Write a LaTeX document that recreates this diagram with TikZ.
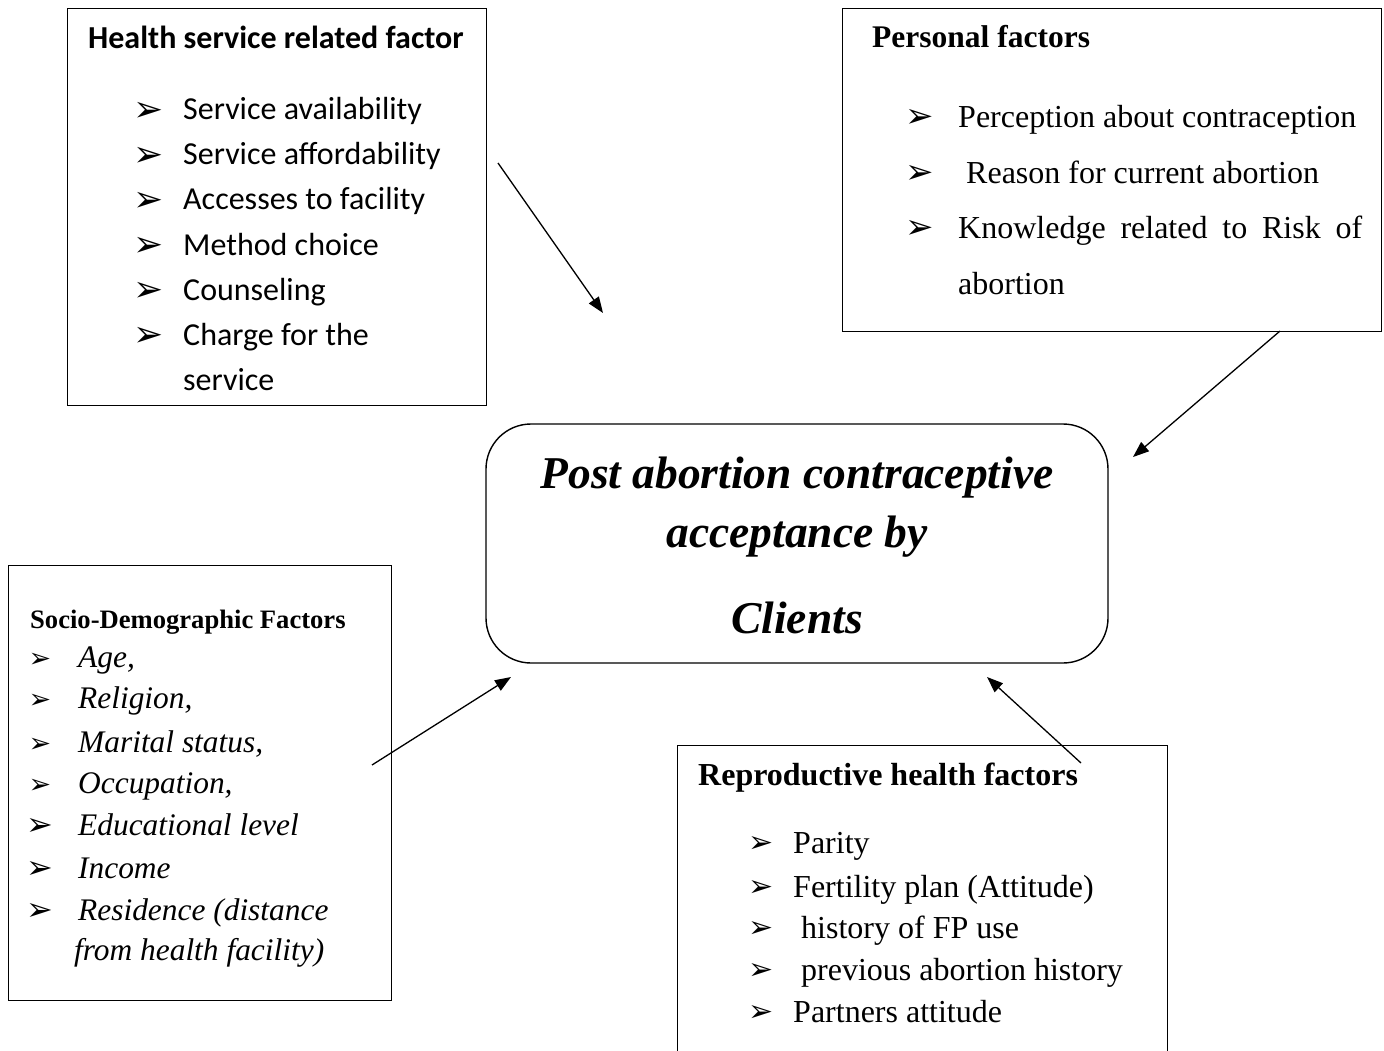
\documentclass[tikz,border=0pt]{standalone}
\usepackage{fontspec}
\setmainfont{Liberation Serif}
\newfontfamily\carlito{Carlito}
\newfontfamily\dejavu{DejaVu Sans}
\usetikzlibrary{arrows.meta}
\newcommand{\fs}[1]{\fontsize{#1}{#1}\selectfont}
\begin{document}
\begin{tikzpicture}[x=1pt,y=-1pt,
  box/.style={draw, line width=1.4pt, inner sep=0pt, anchor=north west},
  txt/.style={inner sep=0pt, anchor=base west},
  blt/.style={inner sep=0pt, anchor=center, font=\dejavu\fs{34}},
  sit/.style={txt, font=\itshape\fs{31.4}},
  arr/.style={line width=1.3pt, -{Triangle[length=16pt,width=12pt]}}]
\clip (0,0) rectangle (1384,1051);
\fill[white] (0,0) rectangle (1384,1051);

% boxes
\node[box, minimum width=419pt, minimum height=397pt] (hbox) at (67,8) {};
\node[box, minimum width=539pt, minimum height=323pt] (pbox) at (842,8) {};
\node[box, minimum width=383pt, minimum height=435pt] (sbox) at (8,565) {};
\node[box, minimum width=490pt, minimum height=330pt] (rbox) at (677,745) {};
\node[draw, line width=1.4pt, rounded corners=45pt, inner sep=0pt,
      minimum width=622pt, minimum height=239pt] (center) at (797,543.5) {};

% center text
\node[inner sep=0pt, anchor=base, font=\bfseries\itshape\fs{45.5}] (c1) at (797,488) {Post abortion contraceptive};
\node[inner sep=0pt, anchor=base, font=\bfseries\itshape\fs{45.5}] (c2) at (797,547) {acceptance by};
\node[inner sep=0pt, anchor=base, font=\bfseries\itshape\fs{45.5}] (c3) at (797,633) {Clients};

% health service
\node[txt, font=\carlito\bfseries\fs{32}] (htitle) at (88,49) {Health service related factor};
\foreach \t [count=\i] in {Service availability, Service affordability, Accesses to facility, Method choice, Counseling, Charge for the}{
  \node[blt, font=\dejavu\fs{36}] (hb\i) at (149,112+45*\i-45) {➢};
  \node[txt, font=\carlito\fs{32}] (ht\i) at (183,120+45*\i-45) {\t};
}
\node[txt, font=\carlito\fs{32}] (ht7) at (183,390) {service};

% personal
\node[txt, font=\bfseries\fs{31.5}] (ptitle) at (872,48) {Personal factors};
\node[blt] (pb1) at (920,118) {➢};
\node[blt] (pb2) at (920,174) {➢};
\node[blt] (pb3) at (920,229) {➢};
\node[txt, font=\fs{32}] (pt1) at (958,128) {Perception about contraception};
\node[txt, font=\fs{32}] (pt2) at (966,184) {Reason for current abortion};
\node[txt, font=\fs{32}] (pt3) at (958,239) {\makebox[404pt][s]{Knowledge related to Risk of}};
\node[txt, font=\fs{32}] (pt4) at (958,294) {abortion};

% socio-demographic
\node[txt, font=\bfseries\fs{26.6}] (stitle) at (30,628) {Socio-Demographic Factors};
\node[blt, font=\dejavu\fs{27}] (sb1) at (40,660) {➢};
\node[blt, font=\dejavu\fs{27}] (sb2) at (40,701) {➢};
\node[blt, font=\dejavu\fs{27}] (sb3) at (40,745) {➢};
\node[blt, font=\dejavu\fs{27}] (sb4) at (40,786) {➢};
\node[blt, font=\dejavu\fs{32}] (sb5) at (40,827) {➢};
\node[blt, font=\dejavu\fs{32}] (sb6) at (40,870) {➢};
\node[blt, font=\dejavu\fs{32}] (sb7) at (40,912) {➢};
\node[sit] (st1) at (78,667) {Age,};
\node[sit] (st2) at (78,708) {Religion,};
\node[sit] (st3) at (78,752) {Marital status,};
\node[sit] (st4) at (78,793) {Occupation,};
\node[sit] (st5) at (78,835) {Educational level};
\node[sit] (st6) at (78,878) {Income};
\node[sit] (st7) at (78,920) {Residence (distance};
\node[sit] (st8) at (74,960) {from health facility)};

% reproductive
\node[txt, font=\bfseries\fs{32}] (rtitle) at (698,785) {Reproductive health factors};
\foreach \t/\y/\x [count=\i] in {Parity/853/793, Fertility plan (Attitude)/897/793, history of FP use/938/801, previous abortion history/980/801, Partners attitude/1022/793}{
  \node[blt, font=\dejavu\fs{30}] (rb\i) at (761,\y-9) {➢};
  \node[txt, font=\fs{32}] (rt\i) at (\x,\y) {\t};
}

% arrows
\coordinate (a1s) at (498,163); \coordinate (a1e) at (603,313);
\coordinate (a2s) at (1280,331); \coordinate (a2e) at (1133,457);
\coordinate (a3s) at (372,765); \coordinate (a3e) at (511,677);
\coordinate (a4s) at (1081,763); \coordinate (a4e) at (987,677);
\draw[arr] (a1s) -- (a1e);
\draw[arr] (a2s) -- (a2e);
\draw[arr] (a3s) -- (a3e);
\draw[arr] (a4s) -- (a4e);
\end{tikzpicture}
\end{document}
